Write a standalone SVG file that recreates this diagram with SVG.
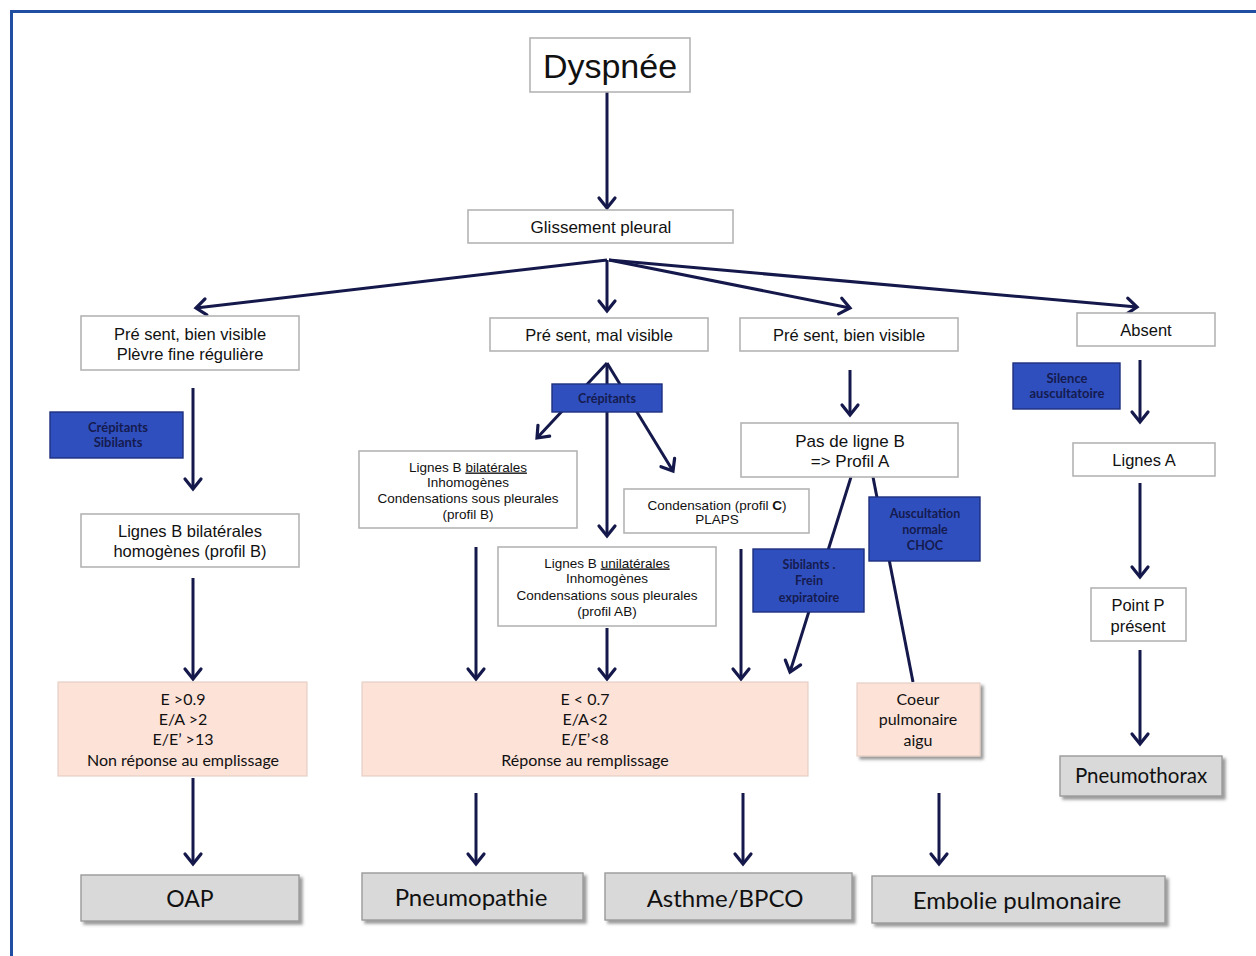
<svg xmlns="http://www.w3.org/2000/svg" width="1256" height="956" viewBox="0 0 1256 956">
  <defs>
    <marker id="chev" markerUnits="userSpaceOnUse" markerWidth="24" markerHeight="24" viewBox="-14 -12 16 24" refX="0" refY="0" orient="auto">
      <path d="M-10,-8 L0,0 L-10,8" fill="none" stroke="#14184a" stroke-width="3.2" stroke-linejoin="miter" stroke-linecap="round"/>
    </marker>
    <filter id="shadow" x="-10%" y="-10%" width="125%" height="140%">
      <feDropShadow dx="3" dy="3" stdDeviation="1.5" flood-color="#555" flood-opacity="0.6"/>
    </filter>
  </defs>
  <style>
    .box { fill: #ffffff; stroke: #b4b4b4; stroke-width: 1.6; }
    .pink { fill: #fde2d8; stroke: #e6cfc6; stroke-width: 1.2; }
    .grey { fill: #d9d9d9; stroke: #9a9a9a; stroke-width: 1.4; }
    .blue { fill: #2f4fbf; stroke: #1d2f7e; stroke-width: 1.4; }
    .t { font-family: "Liberation Sans", Arial, sans-serif; fill: #111; text-anchor: middle; }
    .c { font-family: Lato, "Open Sans", sans-serif; fill: #111; text-anchor: middle; }
    .b { font-family: Lato, "Open Sans", sans-serif; fill: #151b4e; text-anchor: middle; font-weight: bold; }
    .conn line { stroke: #14184a; stroke-width: 3; fill: none; }
    .arr { marker-end: url(#chev); }
  </style>

  <!-- frame -->
  <path d="M11.5,956 L11.5,11.5 L1256,11.5" fill="none" stroke="#1f4ea3" stroke-width="3"/>

  <!-- connectors -->
  <g class="conn">
    <line class="arr" x1="607" y1="92" x2="607" y2="208"/>
    <line class="arr" x1="607" y1="260" x2="196" y2="308"/>
    <line class="arr" x1="607" y1="260" x2="607" y2="311"/>
    <line class="arr" x1="609" y1="260" x2="850" y2="308"/>
    <line class="arr" x1="609" y1="260" x2="1137" y2="307"/>

    <line class="arr" x1="193" y1="388" x2="193" y2="489"/>
    <line class="arr" x1="193" y1="578" x2="193" y2="679"/>
    <line class="arr" x1="193" y1="778" x2="193" y2="864"/>

    <line class="arr" x1="607" y1="363" x2="537" y2="438"/>
    <line class="arr" x1="607" y1="363" x2="607" y2="536"/>
    <line class="arr" x1="607" y1="363" x2="673" y2="471"/>
    <line class="arr" x1="476" y1="547" x2="476" y2="679"/>
    <line class="arr" x1="607" y1="628" x2="607" y2="679"/>
    <line class="arr" x1="741" y1="549" x2="741" y2="679"/>
    <line class="arr" x1="476" y1="793" x2="476" y2="864"/>
    <line class="arr" x1="743" y1="793" x2="743" y2="864"/>

    <line class="arr" x1="850" y1="370" x2="850" y2="415"/>
    <line class="arr" x1="851" y1="477" x2="790" y2="672"/>
    <line x1="873" y1="477" x2="913" y2="682"/>
    <line class="arr" x1="939" y1="793" x2="939" y2="864"/>

    <line class="arr" x1="1140" y1="360" x2="1140" y2="422"/>
    <line class="arr" x1="1140" y1="483" x2="1140" y2="577"/>
    <line class="arr" x1="1140" y1="650" x2="1140" y2="744"/>
  </g>

  <!-- root -->
  <g id="dyspnee">
    <rect class="box" x="530" y="38" width="160" height="54"/>
    <text class="t" x="610" y="78" font-size="34">Dyspnée</text>
  </g>
  <g id="glissement">
    <rect class="box" x="468" y="210" width="265" height="33"/>
    <text class="t" x="601" y="233" font-size="17">Glissement pleural</text>
  </g>

  <!-- left branch -->
  <g id="present-bien-1">
    <rect class="box" x="81" y="316" width="218" height="54"/>
    <text class="t" x="190" y="340" font-size="16.5">Pré sent, bien visible</text>
    <text class="t" x="190" y="360" font-size="16.5">Plèvre fine régulière</text>
  </g>
  <g id="crepitants-sibilants">
    <rect class="blue" x="50" y="412" width="133" height="46"/>
    <text class="b" x="118" y="432" font-size="13">Crépitants</text>
    <text class="b" x="118" y="447" font-size="13">Sibilants</text>
  </g>
  <g id="lignes-b-homogenes">
    <rect class="box" x="81" y="514" width="218" height="53"/>
    <text class="t" x="190" y="537" font-size="16.5">Lignes B bilatérales</text>
    <text class="t" x="190" y="557" font-size="16.5">homogènes (profil B)</text>
  </g>
  <g id="pink-oap">
    <rect class="pink" x="58" y="682" width="249" height="94"/>
    <text class="c" x="183" y="705" font-size="16">E &gt;0.9</text>
    <text class="c" x="183" y="725" font-size="16">E/A &gt;2</text>
    <text class="c" x="183" y="745" font-size="16">E/E’ &gt;13</text>
    <text class="c" x="183" y="766" font-size="16">Non réponse au  emplissage</text>
  </g>
  <g id="oap">
    <rect class="grey" x="81" y="875" width="218" height="46" filter="url(#shadow)"/>
    <text class="c" x="190" y="907" font-size="23">OAP</text>
  </g>

  <!-- middle branch -->
  <g id="present-mal">
    <rect class="box" x="490" y="318" width="218" height="33"/>
    <text class="t" x="599" y="341" font-size="16.5">Pré sent, mal visible</text>
  </g>
  <g id="crepitants">
    <rect class="blue" x="552" y="384" width="110" height="28"/>
    <text class="b" x="607" y="403" font-size="12.5">Crépitants</text>
  </g>
  <g id="lignes-b-bilaterales">
    <rect class="box" x="359" y="451" width="218" height="77"/>
    <text class="t" x="468" y="471.5" font-size="13.5">Lignes B <tspan text-decoration="underline">bilatérales</tspan></text>
    <text class="t" x="468" y="486.5" font-size="13.5">Inhomogènes</text>
    <text class="t" x="468" y="502.5" font-size="13.5">Condensations sous pleurales</text>
    <text class="t" x="468" y="518.5" font-size="13.5">(profil B)</text>
  </g>
  <g id="condensation">
    <rect class="box" x="624" y="489" width="185" height="44"/>
    <text class="t" x="717" y="509.5" font-size="13.5">Condensation (profil <tspan font-weight="bold">C</tspan>)</text>
    <text class="t" x="717" y="523.5" font-size="13.5">PLAPS</text>
  </g>
  <g id="lignes-b-unilaterales">
    <rect class="box" x="498" y="547" width="218" height="79"/>
    <text class="t" x="607" y="567.5" font-size="13.5">Lignes B <tspan text-decoration="underline">unilatérales</tspan></text>
    <text class="t" x="607" y="582.5" font-size="13.5">Inhomogènes</text>
    <text class="t" x="607" y="599.5" font-size="13.5">Condensations sous pleurales</text>
    <text class="t" x="607" y="615.5" font-size="13.5">(profil AB)</text>
  </g>
  <g id="pink-remplissage">
    <rect class="pink" x="362" y="682" width="446" height="94"/>
    <text class="c" x="585" y="705" font-size="16">E &lt; 0.7</text>
    <text class="c" x="585" y="725" font-size="16">E/A&lt;2</text>
    <text class="c" x="585" y="745" font-size="16">E/E’&lt;8</text>
    <text class="c" x="585" y="766" font-size="16">Réponse au remplissage</text>
  </g>
  <g id="pneumopathie">
    <rect class="grey" x="362" y="873" width="221" height="47" filter="url(#shadow)"/>
    <text class="c" x="471" y="906" font-size="24">Pneumopathie</text>
  </g>
  <g id="asthme-bpco">
    <rect class="grey" x="605" y="873" width="247" height="47" filter="url(#shadow)"/>
    <text class="c" x="725" y="907" font-size="24">Asthme/BPCO</text>
  </g>

  <!-- right-middle branch -->
  <g id="present-bien-2">
    <rect class="box" x="740" y="318" width="218" height="33"/>
    <text class="t" x="849" y="341" font-size="16.5">Pré sent, bien visible</text>
  </g>
  <g id="pas-de-ligne-b">
    <rect class="box" x="741" y="423" width="217" height="54"/>
    <text class="t" x="850" y="447" font-size="17">Pas de ligne B</text>
    <text class="t" x="850" y="467" font-size="17">=&gt; Profil A</text>
  </g>
  <g id="sibilants">
    <rect class="blue" x="753" y="549" width="111" height="63"/>
    <text class="b" x="809" y="569" font-size="12.5">Sibilants .</text>
    <text class="b" x="809" y="585" font-size="12.5">Frein</text>
    <text class="b" x="809" y="602" font-size="12.5">expiratoire</text>
  </g>
  <g id="auscultation">
    <rect class="blue" x="869" y="497" width="111" height="64"/>
    <text class="b" x="925" y="518" font-size="12.5">Auscultation</text>
    <text class="b" x="925" y="534" font-size="12.5">normale</text>
    <text class="b" x="925" y="550" font-size="12.5">CHOC</text>
  </g>
  <g id="coeur">
    <rect class="pink" x="857" y="683" width="123" height="73" filter="url(#shadow)"/>
    <text class="c" x="918" y="705" font-size="16">Coeur</text>
    <text class="c" x="918" y="725" font-size="16">pulmonaire</text>
    <text class="c" x="918" y="746" font-size="16">aigu</text>
  </g>
  <g id="embolie">
    <rect class="grey" x="872" y="876" width="293" height="47" filter="url(#shadow)"/>
    <text class="c" x="1017" y="909" font-size="24">Embolie pulmonaire</text>
  </g>

  <!-- right branch -->
  <g id="absent">
    <rect class="box" x="1077" y="313" width="138" height="33"/>
    <text class="t" x="1146" y="336" font-size="16.5">Absent</text>
  </g>
  <g id="silence">
    <rect class="blue" x="1013" y="363" width="107" height="46"/>
    <text class="b" x="1067" y="383" font-size="13">Silence</text>
    <text class="b" x="1067" y="398" font-size="13">auscultatoire</text>
  </g>
  <g id="lignes-a">
    <rect class="box" x="1073" y="443" width="142" height="33"/>
    <text class="t" x="1144" y="466" font-size="16.5">Lignes A</text>
  </g>
  <g id="point-p">
    <rect class="box" x="1091" y="588" width="95" height="53"/>
    <text class="t" x="1138" y="611" font-size="16.5">Point P</text>
    <text class="t" x="1138" y="632" font-size="16.5">présent</text>
  </g>
  <g id="pneumothorax">
    <rect class="grey" x="1060" y="756" width="162" height="40" filter="url(#shadow)"/>
    <text class="c" x="1141" y="783" font-size="20.5">Pneumothorax</text>
  </g>
</svg>
